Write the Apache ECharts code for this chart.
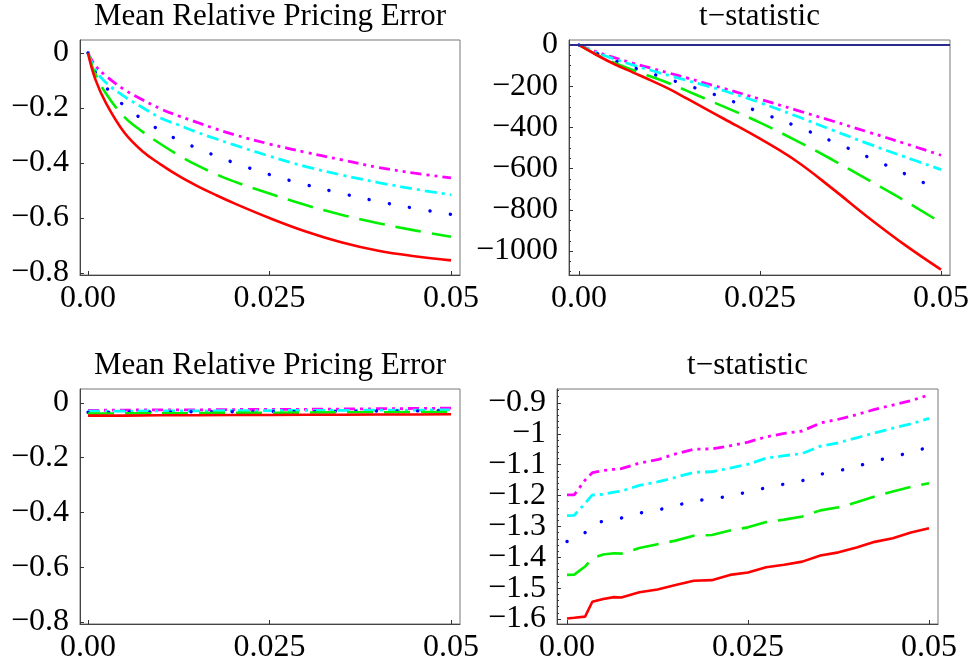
<!DOCTYPE html>
<html>
<head>
<meta charset="utf-8">
<script src="https://cdn.jsdelivr.net/npm/echarts@6/dist/echarts.min.js"></script>
<style>
  html, body { margin: 0; padding: 0; background: #fff; }
  #chart { width: 973px; height: 669px; }
</style>
</head>
<body>
<div id="chart"></div>
<script>
  // x values (shared grids)
  const xTop = [0, 0.001, 0.0025, 0.005, 0.0075, 0.01, 0.0125, 0.015, 0.0175, 0.02, 0.025, 0.03, 0.035, 0.04, 0.045, 0.05]
  const xTopT = [0, 0.0025, 0.005, 0.0075, 0.01, 0.0125, 0.015, 0.0175, 0.02, 0.025, 0.03, 0.035, 0.04, 0.045, 0.05]
  const xBot = [0, 0.005, 0.01, 0.015, 0.02, 0.025, 0.03, 0.035, 0.04, 0.045, 0.05]
  const xBotT = [0, 0.001, 0.0025, 0.0035, 0.005, 0.0065, 0.0075, 0.01, 0.0125, 0.015, 0.0175, 0.02, 0.0225, 0.025, 0.0275, 0.03, 0.0325, 0.035, 0.0375, 0.04, 0.0425, 0.045, 0.0475, 0.05]

  // 左上：Mean Relative Pricing Error
  const tlRed = [0, -0.095, -0.183, -0.289, -0.357, -0.405, -0.447, -0.483, -0.515, -0.545, -0.600, -0.649, -0.689, -0.719, -0.739, -0.754]
  const tlGreen = [0, -0.076, -0.148, -0.232, -0.286, -0.331, -0.372, -0.408, -0.439, -0.466, -0.511, -0.553, -0.589, -0.619, -0.645, -0.668]
  const tlBlue = [0, -0.07, -0.125, -0.192, -0.241, -0.282, -0.317, -0.346, -0.373, -0.398, -0.442, -0.479, -0.511, -0.54, -0.565, -0.587]
  const tlCyan = [0, -0.06, -0.108, -0.158, -0.198, -0.236, -0.262, -0.288, -0.311, -0.333, -0.375, -0.413, -0.444, -0.471, -0.495, -0.516]
  const tlMagenta = [0, -0.045, -0.084, -0.133, -0.170, -0.203, -0.229, -0.252, -0.275, -0.296, -0.331, -0.361, -0.389, -0.416, -0.437, -0.454]

  // 右上：t-statistic
  const trRed = [0, -50, -95, -134, -173, -214, -262, -310, -358, -455, -563, -697, -838, -970, -1090]
  const trGreen = [0, -48, -88, -122, -154, -187, -224, -262, -299, -377, -464, -557, -656, -756, -862]
  const trBlue = [0, -42, -78, -110, -139, -167, -196, -226, -257, -327, -394, -468, -545, -625, -708]
  const trCyan = [0, -38, -70, -98, -124, -149, -173, -197, -222, -280, -345, -413, -480, -543, -605]
  const trMagenta = [0, -34, -63, -89, -113, -137, -161, -186, -211, -263, -316, -369, -423, -478, -535]

  // 左下：Mean Relative Pricing Error
  const blRed = [-0.046, -0.046, -0.045, -0.045, -0.044, -0.044, -0.043, -0.043, -0.042, -0.042, -0.041]
  const blGreen = [-0.039, -0.038, -0.038, -0.037, -0.036, -0.036, -0.035, -0.034, -0.034, -0.033, -0.033]
  const blBlue = [-0.034, -0.033, -0.033, -0.032, -0.032, -0.031, -0.031, -0.030, -0.029, -0.029, -0.028]
  const blCyan = [-0.030, -0.030, -0.029, -0.029, -0.028, -0.028, -0.027, -0.027, -0.026, -0.026, -0.025]
  const blMagenta = [-0.027, -0.026, -0.025, -0.025, -0.024, -0.023, -0.023, -0.022, -0.021, -0.020, -0.019]

  // 右下：t-statistic
  const brRed = [-1.598, -1.596, -1.592, -1.544, -1.535, -1.529, -1.530, -1.513, -1.504, -1.490, -1.476, -1.474, -1.457, -1.449, -1.432, -1.424, -1.414, -1.394, -1.384, -1.368, -1.350, -1.338, -1.320, -1.306]
  const brGreen = [-1.457, -1.456, -1.430, -1.403, -1.391, -1.387, -1.388, -1.370, -1.358, -1.346, -1.330, -1.328, -1.313, -1.303, -1.286, -1.278, -1.268, -1.248, -1.238, -1.222, -1.203, -1.187, -1.172, -1.160]
  const brBlue = [-1.349, -1.345, -1.320, -1.292, -1.283, -1.278, -1.273, -1.257, -1.247, -1.233, -1.217, -1.211, -1.202, -1.188, -1.175, -1.163, -1.152, -1.131, -1.120, -1.106, -1.088, -1.075, -1.060, -1.043]
  const brCyan = [-1.265, -1.264, -1.225, -1.198, -1.196, -1.189, -1.186, -1.167, -1.156, -1.141, -1.125, -1.123, -1.111, -1.099, -1.079, -1.071, -1.064, -1.040, -1.029, -1.013, -0.997, -0.982, -0.968, -0.950]
  const brMagenta = [-1.198, -1.198, -1.150, -1.126, -1.119, -1.115, -1.113, -1.095, -1.084, -1.065, -1.050, -1.049, -1.039, -1.027, -1.010, -0.999, -0.991, -0.965, -0.953, -0.938, -0.921, -0.907, -0.893, -0.874]

  // 刻度
  const xTicks = [0, 0.025, 0.05]
  const xTickLabels = ['0.00', '0.025', '0.05']
  const errTicks = [0, -0.2, -0.4, -0.6, -0.8]
  const tTopTicks = [0, -200, -400, -600, -800, -1000]
  const tBotTicks = [-0.9, -1, -1.1, -1.2, -1.3, -1.4, -1.5, -1.6]
  const titles = ['Mean Relative Pricing Error', 't\u2212statistic', 'Mean Relative Pricing Error', 't\u2212statistic']

  const FONT = '"Liberation Serif", "Times New Roman", serif'

  // 小刻度
  const minorTop = []
  for (let v = -1100; v < 0; v += 50) if (v % 200 !== 0) minorTop.push(v)
  const minorBot = []
  for (let i = -80; i <= -43; i++) if (i % 5 !== 0) minorBot.push(i / 50)
  // 右下标签分两组，避免重叠被隐藏
  const tBotA = tBotTicks.filter((v, k) => k % 2 === 0)
  const tBotB = tBotTicks.filter((v, k) => k % 2 === 1)

  const chart = echarts.init(document.getElementById('chart'))

  const gridPos = [
    { left: 80, top: 40, width: 380, height: 235 },
    { left: 569, top: 40, width: 381, height: 235 },
    { left: 80, top: 389, width: 380, height: 235 },
    { left: 557, top: 389, width: 381, height: 235 }
  ]
  const xRange = [[-0.0011, 0.05124], [-0.00138, 0.05124], [-0.0011, 0.05124], [-0.00138, 0.05124]]
  const yRange = [[-0.8073, 0.0473], [-1116, 24], [-0.8073, 0.0511], [-1.616, -0.855]]
  const yTicks = [errTicks, tTopTicks, errTicks, tBotTicks]
  const yLabelVals = [errTicks, tTopTicks, errTicks, tBotA]

  const fmtY = (v) => (v === 0 ? '0' : String(+v.toFixed(3)).replace('-', '\u2212'))

  const labelStyle = { fontFamily: FONT, fontSize: 32, color: '#000' }

  const xAxis = gridPos.map((g, i) => ({
    type: 'value',
    gridIndex: i,
    min: xRange[i][0],
    max: xRange[i][1],
    splitLine: { show: false },
    axisLine: { show: true, onZero: false, lineStyle: { color: '#444', width: 1 } },
    axisTick: { show: true, inside: true, length: 4, customValues: xTicks, lineStyle: { color: '#333' } },
    axisLabel: {
      customValues: xTicks,
      showMinLabel: true,
      showMaxLabel: true,
      formatter: (v) => xTickLabels[xTicks.findIndex((t) => Math.abs(t - v) < 1e-9)],
      ...labelStyle, margin: 8
    }
  }))

  const yAxis = gridPos.map((g, i) => ({
    type: 'value',
    gridIndex: i,
    min: yRange[i][0],
    max: yRange[i][1],
    splitLine: { show: false },
    axisLine: { show: true, onZero: false, lineStyle: { color: '#444', width: 1 } },
    axisTick: { show: true, inside: true, length: 4, customValues: yTicks[i], lineStyle: { color: '#333' } },
    axisLabel: {
      customValues: yLabelVals[i],
      showMinLabel: true,
      showMaxLabel: true,
      formatter: fmtY,
      ...labelStyle, margin: 11
    }
  }))
  // 小刻度轴
  ;[[1, minorTop], [3, minorBot]].forEach(([gi, vals]) => {
    yAxis.push({
      type: 'value',
      gridIndex: gi,
      position: 'left',
      min: yRange[gi][0],
      max: yRange[gi][1],
      splitLine: { show: false },
      axisLine: { show: false, onZero: false },
      axisLabel: { show: false },
      axisTick: { show: true, inside: true, length: 2, customValues: vals, lineStyle: { color: '#333' } }
    })
  })
  // 右下第二组标签
  yAxis.push({
    type: 'value',
    gridIndex: 3,
    position: 'left',
    min: yRange[3][0],
    max: yRange[3][1],
    splitLine: { show: false },
    axisLine: { show: false, onZero: false },
    axisTick: { show: false },
    axisLabel: {
      customValues: tBotB,
      showMinLabel: true,
      showMaxLabel: true,
      formatter: fmtY,
      ...labelStyle, margin: 11
    }
  })

  const styles = {
    red: { color: '#ff0000', width: 2.6, type: 'solid' },
    green: { color: '#00f000', width: 2.6, type: [26, 11] },
    blue: { color: '#0000ff', width: 3.4, type: [0.1, 20.5], cap: 'round' },
    cyan: { color: '#00ffff', width: 2.8, type: [12, 5, 3, 5] },
    magenta: { color: '#ff00ff', width: 2.8, type: [11, 5, 3, 5, 3, 5] }
  }

  const mk = (gi, xs, ys, key, smooth) => ({
    type: 'line',
    xAxisIndex: gi,
    yAxisIndex: gi,
    data: xs.map((x, k) => [x, ys[k]]),
    showSymbol: false,
    smooth: smooth ? 0.4 : false,
    silent: true,
    animation: false,
    lineStyle: { ...styles[key] }
  })

  const panels = [
    [xTop, { red: tlRed, green: tlGreen, blue: tlBlue, cyan: tlCyan, magenta: tlMagenta }, true],
    [xTopT, { red: trRed, green: trGreen, blue: trBlue, cyan: trCyan, magenta: trMagenta }, true],
    [xBot, { red: blRed, green: blGreen, blue: blBlue, cyan: blCyan, magenta: blMagenta }, false],
    [xBotT, { red: brRed, green: brGreen, blue: brBlue, cyan: brCyan, magenta: brMagenta }, false]
  ]

  const series = []
  panels.forEach(([xs, ser, smooth], gi) => {
    ;['magenta', 'cyan', 'blue', 'green', 'red'].forEach((key) => {
      series.push(mk(gi, xs, ser[key], key, smooth))
    })
  })
  // 右上 y=0 参考线
  series[5].markLine = {
    silent: true,
    symbol: 'none',
    label: { show: false },
    lineStyle: { color: '#2a2a88', width: 2, type: 'solid' },
    data: [{ yAxis: 0 }]
  }

  const graphic = titles.map((t, i) => ({
    type: 'text',
    style: {
      text: t,
      x: gridPos[i].left + gridPos[i].width / 2,
      y: i < 2 ? 17 : 366,
      textAlign: 'center',
      textVerticalAlign: 'middle',
      font: '31px ' + FONT,
      fill: '#000'
    }
  }))

  chart.setOption({
    animation: false,
    grid: gridPos.map((g) => ({ ...g, show: true, borderColor: '#777', borderWidth: 1, containLabel: false })),
    xAxis,
    yAxis,
    series,
    graphic
  })
</script>
</body>
</html>
